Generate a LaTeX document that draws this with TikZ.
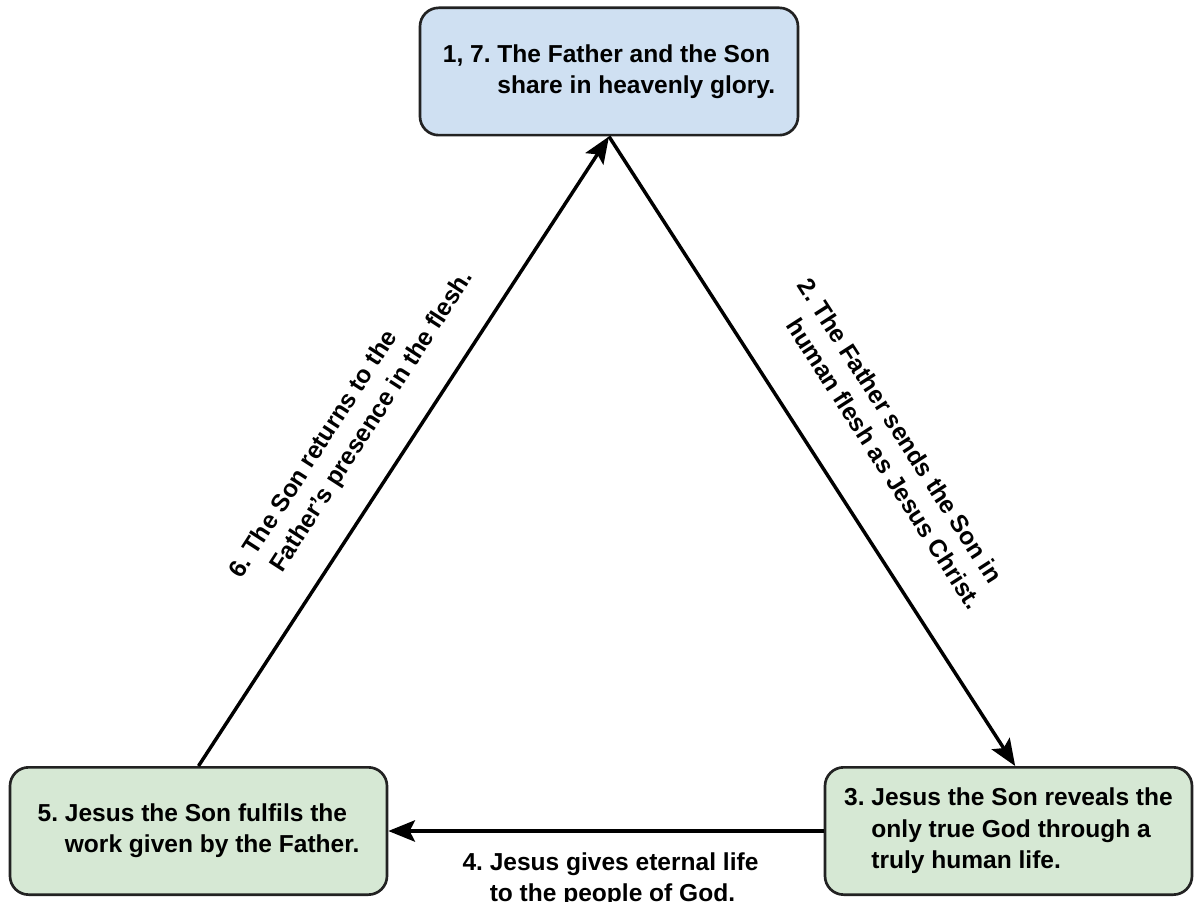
\documentclass[tikz,border=0pt]{standalone}
\usepackage{fontspec}
\setmainfont{Liberation Sans}
\usetikzlibrary{arrows.meta}

\newcommand{\diagfont}{\fontsize{18.4}{23.5}\selectfont\bfseries}
\definecolor{heavenblue}{RGB}{207,224,242}
\definecolor{earthgreen}{RGB}{214,232,212}
\definecolor{edgegray}{RGB}{34,34,34}

\tikzset{every picture/.style={line width=0.75pt}}
\tikzset{
	stage/.style={draw=edgegray, line width=2pt, rounded corners=14pt, minimum height=95.5pt, inner sep=0pt, align=left, font=\diagfont},
	heaven/.style={stage, fill=heavenblue},
	earth/.style={stage, fill=earthgreen},
	link/.style={line width=2.6pt, -{Stealth[length=20pt,width=16pt,inset=4pt]}},
	caption/.style={inner sep=0pt, font=\diagfont}
}

\begin{document}
\begin{tikzpicture}[x=0.75pt,y=0.75pt,yscale=-1,xscale=1]
	\useasboundingbox (0,0) rectangle (1196,902);
	
	%Boxes
	\node [heaven, minimum width=283.5pt] (glory) at (609,71.5) {\begin{tabular}{@{}l@{\ }l@{}}1, 7. & The Father and the Son\\ & share in heavenly glory.\end{tabular}};
	\node [earth, minimum width=282.75pt] (fulfil) at (198.5,831) {\begin{tabular}{@{}l@{\ }l@{}}5. & Jesus the Son fulfils the\\ & work given by the Father.\end{tabular}};
	\node [earth, minimum width=275.25pt] (reveal) at (1008.5,831) {\begin{tabular}{@{}l@{\ }l@{}}3. & Jesus the Son reveals the\\ & only true God through a\\ & truly human life.\end{tabular}};
	
	%Connectors
	\draw [link] (fulfil.north) -- (glory.south);
	\draw [link] (glory.south) -- ([xshift=5pt]reveal.north);
	\draw [link] (reveal.west) -- (fulfil.east);
	
	% Text Node
	\node [caption, rotate=-57.26] (send) at (888,445) {\begin{tabular}{@{}l@{\ }l@{}}2. & The Father sends the Son in\\ & human flesh as Jesus Christ.\end{tabular}};
	% Text Node
	\node [caption, rotate=57.2] (return) at (352,425) {\begin{tabular}{@{}l@{\ }l@{}}6. & The Son returns to the\\ & Father's presence in the flesh.\end{tabular}};
	% Text Node
	\node [caption, anchor=north west] (give) at (462,848) {\begin{tabular}{@{}l@{\ }l@{}}4. & Jesus gives eternal life\\ & to the people of God.\end{tabular}};
	
\end{tikzpicture}
\end{document}
